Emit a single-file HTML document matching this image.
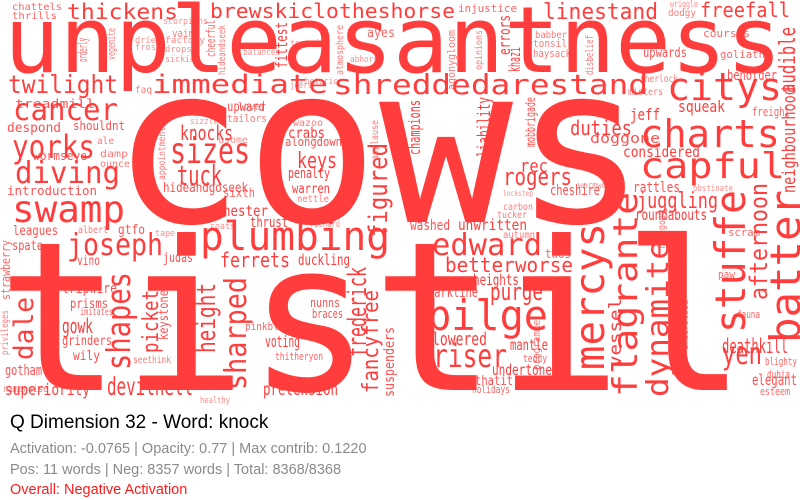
<!DOCTYPE html>
<html><head><meta charset="utf-8">
<style>
html,body{margin:0;padding:0;background:#fff;width:800px;height:500px;overflow:hidden}
svg{display:block}
.w{font-family:"DejaVu Sans Mono","Liberation Mono",monospace;fill:#ff3d3d}
.info{font-family:"Liberation Sans",sans-serif}
</style></head>
<body>
<svg id="cloud" width="800" height="500" viewBox="0 0 800 500" xmlns="http://www.w3.org/2000/svg">
<g id="words"></g>
<text class="info" x="10" y="428" font-size="19" fill="#000">Q Dimension 32 - Word: knock</text>
<text class="info" x="10" y="453" font-size="14.5" fill="#8a8a8a">Activation: -0.0765 | Opacity: 0.77 | Max contrib: 0.1220</text>
<text class="info" x="10" y="474" font-size="14.5" fill="#8a8a8a">Pos: 11 words | Neg: 8357 words | Total: 8368/8368</text>
<text class="info" x="10" y="494" font-size="14.5" fill="#ff1a1a">Overall: Negative Activation</text>
</svg>
<script>
// horizontal words: word, x, baseline, font size, width, opacity
const hWords = [
["unpleasantness",4,72,92,778,1],
["cows",111,222,220,536,1],
["tistil",-3,390,208,750,1],
["thickens",67,19,21,111,1],
["brewskiclotheshorse",210,18,20,245,1],
["chattels",12,10,10,50,.8],["thrills",12,19,10,45,.8],
["linestand",543,19,22,115,1],["freefall",700,17,20,90,1],["injustice",458,12,11,59,.8],
["twilight",8,93,25,110,1],["immediate",152,93,26,176,1],["shreddedarestand",333,94,28,315,1],
["cancer",13,120,30,105,1],["yorks",12,158,32,83,1],["diving",15,183,30,105,1],
["sizes",170,163,36,80,1],["tuck",177,185,28,45,1],["knocks",180,140,20,53,1],
["despond",7,132,13,54,.9],["shouldnt",73,130,12,52,.9],["wormseye",33,160,12,54,.9],
["introduction",7,195,12,90,.9],["treadmill",15,108,12,80,.9],["upward",227,111,13,38,.9],
["keys",297,168,22,40,1],["crabs",288,138,15,37,1],["alongdown",285,146,12,57,.9],
["penalty",288,178,14,42,1],["warren",292,193,13,38,1],["hideandgoseek",163,192,13,85,.9],
["citys",667,100,38,115,1],["charts",640,147,38,140,1],["capful",640,178,36,145,1],
["duties",570,135,20,62,1],["squeak",678,112,16,47,1],["considered",623,157,15,77,1],
["jeff",630,120,16,30,1],["doggone",590,143,14,70,.9],["rogers",503,185,24,69,1],
["rec",520,172,18,28,1],["cheshire",550,195,14,50,.9],["beholder",727,80,14,50,.9],
["upwards",643,57,13,44,.9],["goliath",720,58,11,45,.8],["courses",703,37,11,47,.8],
["swamp",12,222,37,113,1],["joseph",67,255,30,96,1],["plumbing",200,250,40,190,1],
["ferrets",220,267,20,70,1],["duckling",298,265,15,52,1],["nester",223,216,15,45,1],
["thrust",250,227,14,38,1],["leagues",13,235,13,45,.9],["gtfo",118,234,13,27,.9],
["spate",12,250,13,31,.9],["vino",77,265,13,23,.9],["judas",163,262,13,30,.9],
["gowk",62,333,20,31,1],["tripwire",62,293,14,55,.9],["prisms",70,308,13,38,.9],
["imitates",80,315,10,33,.8],["grinders",62,345,13,50,.9],["wily",73,360,13,27,.9],
["gotham",5,375,14,37,.9],["superiority",5,395,16,85,1],["devilhell",107,395,25,86,1],
["pretension",263,395,17,75,1],["voting",265,347,16,35,1],["nunns",310,307,12,30,.9],
["braces",312,318,12,31,.9],["pinkblue",245,330,11,45,.8],["thitheryon",275,360,11,48,.8],
["edward",432,255,30,110,1],["betterworse",445,272,20,128,1],["unwritten",458,230,15,69,1],
["washed",410,230,14,40,.9],["heights",473,285,15,46,1],["markline",428,297,14,50,.9],
["purge",490,300,24,53,1],["bilge",427,330,42,121,1],["lowered",432,345,18,55,1],
["riser",433,367,32,74,1],["mantle",510,350,15,38,1],["undertone",492,375,15,60,1],
["thatit",475,385,13,38,.9],["holidays",472,393,11,38,.8],["teddy",523,362,11,24,.8],
["deathkill",722,353,20,66,1],["yen",722,364,30,40,1],["juggling",637,208,22,81,1],
["roundabouts",635,220,15,72,1],["rattles",633,192,14,47,.9],["elegant",752,385,15,45,.9],
["esteem",760,395,11,30,.8],["blighty",765,365,11,32,.8],["dubia",767,378,11,23,.8],
["fauna",737,318,11,23,.8],["scram",728,236,11,32,.8],["paw",718,278,11,17,.8],
["vain",172,37,11,22,.7],["factory",165,43,9,40,.6],["dropsy",165,52,9,32,.6],["sickie",165,62,9,30,.6],
["dried",135,43,9,26,.6],["frost",135,50,9,26,.6],["scorpions",163,24,9,45,.6],
["tortoise",290,46,9,40,.6],["balances",243,55,9,37,.6],["abhors",350,62,9,28,.6],
["ayes",367,37,13,28,.8],["rhetoric",300,84,9,38,.6],["jeers",290,88,9,22,.6],
["faq",135,93,10,17,.7],["lover",238,110,11,28,.7],["tailors",227,122,11,40,.7],
["wazoo",293,126,10,30,.7],["sizzle",190,124,9,28,.6],["asome",218,143,10,30,.6],
["damp",100,157,10,28,.7],["ale",97,144,10,17,.7],["ounce",100,167,10,30,.7],
["sixth",223,197,12,32,.8],["nettle",297,202,10,32,.7],["albert",78,233,10,30,.7],
["tape",155,236,9,20,.6],["coats",210,229,9,25,.6],["richard",310,227,9,30,.6],
["tonsil",533,47,11,34,.7],["haysack",533,57,11,38,.7],["babber",535,38,10,32,.7],
["sherlock",640,82,10,38,.7],["misters",628,95,10,35,.7],["freight",752,116,12,38,.8],
["carbon",503,210,10,30,.7],["tucker",497,218,10,30,.7],["autumn",503,238,10,32,.7],
["twos",545,258,12,26,.8],["dodgy",668,16,10,28,.7],["wriggle",670,7,9,28,.6],
["wormwood",578,188,9,38,.6],["obstinate",693,191,9,40,.6],["lockstep",503,196,8,30,.6],
["namenoise",3,392,10,45,.7],["seethink",133,363,10,38,.7],["healthy",200,403,9,30,.6]
];
// vertical words (read bottom to top): word, baseline x, bottom y, font size, length, opacity
const vWords = [
["dale",33,360,27,63,1],["shapes",130,370,33,98,1],["picket",158,353,22,63,1],
["keystone",168,340,13,50,.9],["height",215,353,26,70,1],["sharped",246,390,30,113,1],
["frederick",366,357,26,90,1],["fancyfree",378,393,22,103,1],["figured",387,237,26,94,1],
["suspenders",394,397,14,70,.9],["mercys",604,370,41,147,1],["flagrante",637,397,34,205,1],
["vessel",621,367,17,69,1],["dynamite",668,397,30,157,1],["obtuse",684,293,14,45,.9],
["understood",688,350,11,50,.8],["stuffe",745,333,42,143,1],["afternoon",767,300,24,117,1],
["batter",800,343,42,153,1],["audible",795,93,22,66,1],["neighbourhood",795,193,18,106,1],
["champions",420,155,16,55,1],["liability",490,157,18,60,1],["mobbrigade",535,147,13,50,.9],
["khazi",520,72,16,25,1],["errors",510,55,16,40,1],["fittest",287,68,16,46,1],
["cheerful",215,57,12,37,.8],["orderly",87,62,12,24,.8],["vegemite",115,60,11,32,.7],
["atmosphere",343,75,10,50,.7],["hideandseek",225,75,10,50,.7],["agonygloom",455,90,11,60,.7],
["opinions",482,70,10,40,.7],["disbelief",593,75,11,40,.7],["strawberry",10,300,12,60,.8],
["privileges",8,355,10,45,.7],["appointment",165,180,10,53,.7],["applause",378,160,10,40,.7],
["programme",540,370,11,50,.7],["finegood",665,250,10,40,.7]
];
const g = document.getElementById('words');
const NS = 'http://www.w3.org/2000/svg';
hWords.forEach(function(d){
  const t = document.createElementNS(NS,'text');
  t.setAttribute('class','w');
  t.setAttribute('x',d[1]);
  t.setAttribute('y',d[2]);
  t.setAttribute('font-size',d[3]);
  t.setAttribute('textLength',d[4]);
  t.setAttribute('lengthAdjust','spacingAndGlyphs');
  t.setAttribute('fill-opacity',d[5]);
  
  
  t.textContent = d[0];
  g.appendChild(t);
});
vWords.forEach(function(d){
  const t = document.createElementNS(NS,'text');
  t.setAttribute('class','w');
  t.setAttribute('x',d[1]);
  t.setAttribute('y',d[2]);
  t.setAttribute('font-size',d[3]);
  t.setAttribute('textLength',d[4]);
  t.setAttribute('lengthAdjust','spacingAndGlyphs');
  t.setAttribute('fill-opacity',d[5]);
  t.setAttribute('transform','rotate(-90 '+d[1]+' '+d[2]+')');
  
  
  t.textContent = d[0];
  g.appendChild(t);
});
</script>
</body></html>
